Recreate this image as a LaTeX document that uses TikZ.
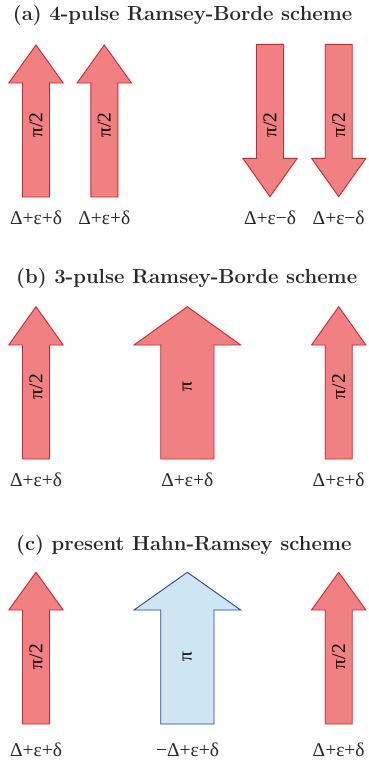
\documentclass[tikz,border=0pt]{standalone}
\usepackage{fontspec}
\usepackage{xcolor}
\usepackage{tikz}
\usetikzlibrary{positioning,calc}
\newfontfamily\grfont{Liberation Serif}
\definecolor{pulseR}{RGB}{240,128,130}
\definecolor{edgeR}{RGB}{214,36,46}
\definecolor{pulseB}{RGB}{206,230,243}
\definecolor{edgeB}{RGB}{44,62,160}
\definecolor{txtC}{RGB}{40,40,40}
\tikzset{
  redpulse/.style={fill=pulseR, draw=edgeR, line width=0.9pt, line join=miter},
  bluepulse/.style={fill=pulseB, draw=edgeB, line width=0.9pt, line join=miter},
  titre/.style={anchor=west, font=\fontsize{20.3}{22}\selectfont\bfseries, text=txtC, inner sep=0pt},
  detun/.style={font=\grfont\fontsize{19.5}{21}\selectfont, text=txtC, inner sep=0pt},
  aire/.style={font=\grfont\fontsize{19.5}{21}\selectfont, text=black, rotate=90, inner sep=0pt},
}
\begin{document}
\begin{tikzpicture}[x=1pt, y=-1pt]
        \useasboundingbox (0,0) rectangle (368,761);
        % (a) 4 impulsions
        \node[titre] (ta) at (12.7,15) {(a) 4-pulse Ramsey-Borde scheme};
        \foreach \cx/\nm in {36/a1, 104.3/a2} {
          \draw[redpulse] (\cx-13.5,197) -- (\cx-13.5,83) -- (\cx-27.2,83) -- (\cx,45)
            -- (\cx+27.2,83) -- (\cx+13.5,83) -- (\cx+13.5,197) -- cycle;
          \node[aire] (p\nm) at (\cx,125) {π/2};
          \node[detun] (d\nm) at (\cx,218) {Δ+ε+δ};
        }
        \foreach \cx/\nm in {270/a3, 338.7/a4} {
          \draw[redpulse] (\cx-13.5,44.3) -- (\cx-13.5,158.3) -- (\cx-27.2,158.3) -- (\cx,196.7)
            -- (\cx+27.2,158.3) -- (\cx+13.5,158.3) -- (\cx+13.5,44.3) -- cycle;
          \node[aire] (p\nm) at (\cx,125) {π/2};
          \node[detun] (d\nm) at (\cx,218) {Δ+ε−δ};
        }
        % (b) 3 impulsions
        \node[titre] (tb) at (16,278.3) {(b) 3-pulse Ramsey-Borde scheme};
        \foreach \cx/\nm in {36/b1, 338.7/b3} {
          \draw[redpulse] (\cx-13.5,459) -- (\cx-13.5,345) -- (\cx-27.2,345) -- (\cx,306.7)
            -- (\cx+27.2,345) -- (\cx+13.5,345) -- (\cx+13.5,459) -- cycle;
          \node[aire] (p\nm) at (\cx,386.7) {π/2};
          \node[detun] (d\nm) at (\cx,480) {Δ+ε+δ};
        }
        \draw[redpulse] (160.7,459) -- (160.7,345) -- (134,345) -- (187.3,306.7)
          -- (240.7,345) -- (214,345) -- (214,459) -- cycle;
        \node[aire] (pb2) at (187.3,386.7) {π};
        \node[detun] (db2) at (187.3,480) {Δ+ε+δ};
        % (c) Hahn-Ramsey
        \node[titre] (tc) at (16,545) {(c) present Hahn-Ramsey scheme};
        \foreach \cx/\nm in {36/c1, 338.7/c3} {
          \draw[redpulse] (\cx-13.5,724) -- (\cx-13.5,610) -- (\cx-27.2,610) -- (\cx,572.3)
            -- (\cx+27.2,610) -- (\cx+13.5,610) -- (\cx+13.5,724) -- cycle;
          \node[aire] (p\nm) at (\cx,656.7) {π/2};
          \node[detun] (d\nm) at (\cx,750) {Δ+ε+δ};
        }
        \draw[bluepulse] (160.7,724) -- (160.7,610) -- (134,610) -- (187.3,572.3)
          -- (240.7,610) -- (214,610) -- (214,724) -- cycle;
        \node[aire] (pc2) at (187.3,656.7) {π};
        \node[detun] (dc2) at (187.5,750) {−Δ+ε+δ};
      \end{tikzpicture}
\end{document}
